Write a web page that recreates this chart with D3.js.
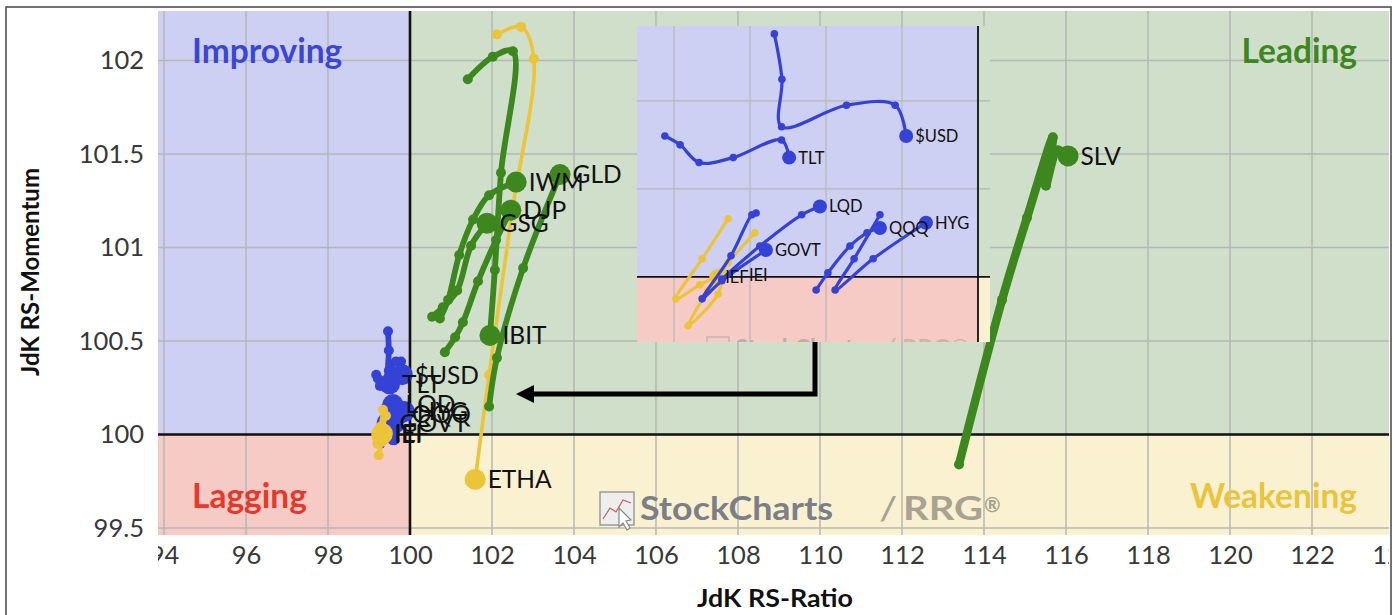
<!DOCTYPE html>
<html>
<head>
<meta charset="utf-8">
<script src="https://cdn.jsdelivr.net/npm/d3@7"></script>
<style>
body { margin: 0; background: #fff; }
svg { display: block; font-family: Lato, 'Open Sans', sans-serif; }
</style>
</head>
<body>
<div class="rrg-wrapper"></div>
<script>
// axis ticks
const xTicks = [94, 96, 98, 100, 102, 104, 106, 108, 110, 112, 114, 116, 118, 120, 122, 124];
const yTicks = [99.5, 100, 100.5, 101, 101.5, 102];
const insetXTicks = [99.2, 99.4, 99.6, 99.8];
const insetYTicks = [100.2, 100.4];

// tails, oldest -> latest, each point [RS-Ratio, RS-Momentum]
const SLV  = [[113.39, 99.84], [114.44, 100.72], [115.05, 101.16], [115.68, 101.59], [115.51, 101.33], [115.80, 101.52], [116.05, 101.49]];
const GLD  = [[101.93, 100.15], [102.12, 100.41], [102.76, 100.89], [103.66, 101.39]];
const IWM  = [[100.73, 100.62], [100.93, 100.72], [101.20, 100.96], [101.54, 101.15], [101.93, 101.28], [102.59, 101.35]];
const DJP  = [[100.85, 100.44], [101.10, 100.52], [101.29, 100.60], [101.66, 100.82], [102.10, 101.04], [102.46, 101.20]];
const GSG  = [[100.54, 100.63], [100.80, 100.68], [101.15, 100.77], [101.49, 101.01], [101.88, 101.13]];
const IBIT = [[101.41, 101.90], [102.02, 102.02], [102.51, 102.05], [102.22, 101.40], [102.07, 100.88], [101.95, 100.53]];
const ETHA = [[102.12, 102.14], [102.71, 102.18], [103.02, 102.01], [102.49, 101.19], [101.93, 100.32], [101.59, 99.76]];
const USD  = [[99.464, 100.552], [99.484, 100.449], [99.483, 100.341], [99.654, 100.390], [99.782, 100.390], [99.811, 100.320]];
const TLT  = [[99.176, 100.320], [99.216, 100.300], [99.266, 100.260], [99.356, 100.271], [99.483, 100.311], [99.503, 100.271]];
const LQD  = [[99.326, 99.995], [99.426, 100.070], [99.536, 100.141], [99.584, 100.160]];
const GOVT = [[99.416, 100.145], [99.405, 100.141], [99.350, 100.048], [99.274, 99.950], [99.326, 99.991], [99.442, 100.061]];
const QQQ  = [[99.574, 99.970], [99.605, 100.009], [99.663, 100.070], [99.708, 100.100], [99.742, 100.111]];
const HYG  = [[99.742, 100.141], [99.674, 100.041], [99.624, 99.970], [99.724, 100.041], [99.863, 100.123]];
const IEF  = [[99.342, 100.132], [99.274, 100.041], [99.205, 99.950], [99.268, 99.982], [99.311, 100.000]];
const IEI  = [[99.413, 100.100], [99.342, 100.032], [99.289, 99.968], [99.237, 99.889], [99.316, 99.961], [99.326, 100.005]];

const greenNames  = ['SLV', 'GLD', 'IWM', 'DJP', 'GSG', 'IBIT'];
const blueNames   = ['$USD', 'TLT', 'LQD', 'GOVT', 'QQQ', 'HYG'];
const yellowNames = ['ETHA', 'IEF', 'IEI'];

const tails = {SLV: SLV, GLD: GLD, IWM: IWM, DJP: DJP, GSG: GSG, IBIT: IBIT, ETHA: ETHA,
  '$USD': USD, TLT: TLT, LQD: LQD, GOVT: GOVT, QQQ: QQQ, HYG: HYG, IEF: IEF, IEI: IEI};

const green = '#3d871f', blue = '#3442d6', yellow = '#ebc43a';
const colorOf = n => greenNames.includes(n) ? green : blueNames.includes(n) ? blue : yellow;

const W = 1397, H = 615;
const svg = d3.select('.rrg-wrapper').append('svg').attr('width', W).attr('height', H);
const defs = svg.append('defs');

// main plot box
const pl = 158, pr = 1389, pt = 11, pb = 535;
const x = d3.scaleLinear().domain([93.854, 123.878]).range([pl, pr]);
const y = d3.scaleLinear().domain([99.4626, 102.265]).range([pb, pt]);

// inset box (zoom of the cluster round 100/100)
const il = 637, ir = 990, it = 26, ib = 342;
const ix = d3.scaleLinear().domain([99.1026, 100.0316]).range([il, ir]);
const iy = d3.scaleLinear().domain([99.852, 100.570]).range([ib, it]);

svg.append('rect').attr('x', 6).attr('y', 7).attr('width', 1385).attr('height', 640)
  .attr('fill', 'none').attr('stroke', '#444').attr('stroke-width', 1.5);

defs.append('clipPath').attr('id', 'plotClip').append('rect')
  .attr('x', pl).attr('y', pt).attr('width', pr - pl).attr('height', pb - pt);
defs.append('clipPath').attr('id', 'xLabClip').append('rect')
  .attr('x', pl).attr('y', pb).attr('width', pr - pl).attr('height', 50);
defs.append('clipPath').attr('id', 'insetClip').append('rect')
  .attr('x', il).attr('y', it).attr('width', ir - il).attr('height', ib - it);

function quadrants(g, xs, ys) {
  const x0 = xs.range()[0], x1 = xs.range()[1], y0 = ys.range()[1], y1 = ys.range()[0];
  const cx = xs(100), cy = ys(100);
  g.append('rect').attr('x', x0).attr('y', y0).attr('width', cx - x0).attr('height', cy - y0).attr('fill', '#cdd0f2');
  g.append('rect').attr('x', cx).attr('y', y0).attr('width', x1 - cx).attr('height', cy - y0).attr('fill', '#cfdfc9');
  g.append('rect').attr('x', x0).attr('y', cy).attr('width', cx - x0).attr('height', y1 - cy).attr('fill', '#f6cbc6');
  g.append('rect').attr('x', cx).attr('y', cy).attr('width', x1 - cx).attr('height', y1 - cy).attr('fill', '#faf1d1');
}

function grid(g, xs, ys, xt, yt, w) {
  g.selectAll(null).data(xt).join('line')
    .attr('x1', d => xs(d)).attr('x2', d => xs(d))
    .attr('y1', ys.range()[1]).attr('y2', ys.range()[0])
    .attr('stroke', '#b6b6b6').attr('stroke-width', w);
  g.selectAll(null).data(yt).join('line')
    .attr('y1', d => ys(d)).attr('y2', d => ys(d))
    .attr('x1', xs.range()[0]).attr('x2', xs.range()[1])
    .attr('stroke', '#b6b6b6').attr('stroke-width', w);
}

function centre(g, xs, ys, w) {
  g.append('line').attr('x1', xs(100)).attr('x2', xs(100)).attr('y1', ys.range()[1]).attr('y2', ys.range()[0])
    .attr('stroke', '#111').attr('stroke-width', w);
  g.append('line').attr('y1', ys(100)).attr('y2', ys(100)).attr('x1', xs.range()[0]).attr('x2', xs.range()[1])
    .attr('stroke', '#111').attr('stroke-width', w);
}

function drawTails(g, xs, ys, names, sz) {
  const line = d3.line().x(d => xs(d[0])).y(d => ys(d[1])).curve(d3.curveCatmullRom.alpha(0.5));
  names.forEach(function(n) {
    const pts = tails[n], c = colorOf(n);
    g.append('path').attr('d', line(pts)).attr('fill', 'none').attr('stroke', c)
      .attr('stroke-width', (sz.wide && sz.wide[n]) || (yellowNames.includes(n) ? sz.yline : sz.line))
      .attr('stroke-linejoin', 'round').attr('stroke-linecap', 'round');
    g.selectAll(null).data(pts.slice(0, -1)).join('circle')
      .attr('cx', d => xs(d[0])).attr('cy', d => ys(d[1])).attr('r', sz.dot).attr('fill', c);
    const h = pts[pts.length - 1];
    g.append('circle').attr('cx', xs(h[0])).attr('cy', ys(h[1])).attr('r', sz.head).attr('fill', c);
  });
}

function drawLabels(g, xs, ys, names, sz, nudge) {
  names.forEach(function(n) {
    const h = tails[n][tails[n].length - 1];
    g.append('text').attr('x', xs(h[0]) + sz.head + 2 + (nudge[n] || 0)).attr('y', ys(h[1]))
      .attr('dy', '0.36em').style('font-size', sz.font + 'px').attr('fill', '#111').text(n);
  });
}

// ---- main chart
const main = svg.append('g').attr('clip-path', 'url(#plotClip)');
quadrants(main, x, y);
grid(main, x, y, xTicks, yTicks, 1.5);
centre(main, x, y, 2.6);

function quadLabel(tx, ty, anchor, fill, txt) {
  main.append('text').attr('x', tx).attr('y', ty).attr('text-anchor', anchor).attr('fill', fill)
    .style('font-size', '33.5px').style('font-weight', 700).text(txt);
}
quadLabel(192, 63, 'start', '#3a47d4', 'Improving');
quadLabel(1357, 63, 'end', '#3e861f', 'Leading');
quadLabel(192, 508, 'start', '#e6392c', 'Lagging');
quadLabel(1357, 508, 'end', '#e9c43c', 'Weakening');

// watermark
const wm = main.append('g');
wm.append('rect').attr('x', 600).attr('y', 492).attr('width', 34).attr('height', 33)
  .attr('fill', '#eeeeee').attr('stroke', '#9a9a9a').attr('stroke-width', 1.5);
wm.append('path').attr('d', 'M603,519 L610,508 L616,512 L623,500 L631,503')
  .attr('fill', 'none').attr('stroke', '#c0605a').attr('stroke-width', 1.2);
wm.append('path').attr('d', 'M619,508 L619,527 L623,523 L627,530 L630,528 L626,521 L631,520 Z')
  .attr('fill', '#fff').attr('stroke', '#888').attr('stroke-width', 1.2);
wm.append('text').attr('x', 640).attr('y', 520).attr('textLength', 193).attr('lengthAdjust', 'spacingAndGlyphs')
  .style('font-size', '33px').style('font-weight', 700).attr('fill', '#7c7e88').text('StockCharts');
wm.append('text').attr('x', 881).attr('y', 520)
  .style('font-size', '33px').style('font-weight', 700).style('font-style', 'italic').attr('fill', '#a8a292').text('/');
wm.append('text').attr('x', 903).attr('y', 520).attr('textLength', 80).attr('lengthAdjust', 'spacingAndGlyphs')
  .style('font-size', '33px').style('font-weight', 700).attr('fill', '#a8a292').text('RRG');
wm.append('text').attr('x', 984).attr('y', 512).style('font-size', '20px').style('font-weight', 700).attr('fill', '#a8a292').text('®');

const mainSz = {line: 5.8, yline: 3.6, dot: 5, head: 10.5, font: 24.5, wide: {SLV: 8.5}};
drawTails(main, x, y, ['ETHA'], mainSz);
drawTails(main, x, y, blueNames, mainSz);
drawTails(main, x, y, greenNames, mainSz);
drawTails(main, x, y, ['IEF', 'IEI'], mainSz);
drawLabels(main, x, y, greenNames.concat(blueNames, yellowNames), mainSz, {});

// axes
const xAxis = svg.append('g').attr('clip-path', 'url(#xLabClip)')
  .append('g').attr('transform', 'translate(0,' + pb + ')')
  .call(d3.axisBottom(x).tickValues(xTicks).tickSize(0).tickPadding(11).tickFormat(d3.format('d')));
const yAxis = svg.append('g').attr('transform', 'translate(' + pl + ',0)')
  .call(d3.axisLeft(y).tickValues(yTicks).tickSize(0).tickPadding(14).tickFormat(d => d));
[xAxis, yAxis].forEach(function(a) {
  a.select('.domain').remove();
  a.selectAll('text').style('font-size', '25.5px').style('font-family', 'Lato').attr('fill', '#383838');
});

svg.append('text').attr('x', 775).attr('y', 607).attr('text-anchor', 'middle')
  .attr('textLength', 156).attr('lengthAdjust', 'spacingAndGlyphs')
  .style('font-size', '24px').style('font-weight', 700).attr('fill', '#111').text('JdK RS-Ratio');
svg.append('text').attr('transform', 'translate(39,272) rotate(-90)').attr('text-anchor', 'middle')
  .attr('textLength', 208).attr('lengthAdjust', 'spacingAndGlyphs')
  .style('font-size', '24px').style('font-weight', 700).attr('fill', '#111').text('JdK RS-Momentum');

// ---- inset
const inset = svg.append('g').attr('clip-path', 'url(#insetClip)');
quadrants(inset, ix, iy);
grid(inset, ix, iy, insetXTicks, insetYTicks, 1.2);
centre(inset, ix, iy, 1.8);
inset.append('rect').attr('x', 707).attr('y', 337).attr('width', 22).attr('height', 20)
  .attr('fill', 'none').attr('stroke', '#aaa').attr('stroke-width', 1);
inset.append('text').attr('x', 735).attr('y', 357).style('font-size', '24px').style('font-weight', 700)
  .attr('fill', '#999').attr('opacity', 0.6).text('StockCharts');
inset.append('text').attr('x', 885).attr('y', 357).style('font-size', '24px').style('font-weight', 700)
  .attr('fill', '#b0a898').attr('opacity', 0.6).text('/ RRG®');

const insetNames = ['$USD', 'TLT', 'LQD', 'GOVT', 'QQQ', 'HYG', 'IEF', 'IEI'];
const inSz = {line: 3.2, yline: 3.2, dot: 3.8, head: 7, font: 16.5};
drawTails(inset, ix, iy, ['IEF', 'IEI'], inSz);
drawTails(inset, ix, iy, blueNames, inSz);
drawLabels(inset, ix, iy, insetNames, inSz, {IEI: 18});

// arrow from inset to the cluster
svg.append('path').attr('d', 'M815,' + ib + ' V394 H530').attr('fill', 'none')
  .attr('stroke', '#000').attr('stroke-width', 5);
svg.append('path').attr('d', 'M516,394 L534,385 L534,403 Z').attr('fill', '#000');
</script>
</body>
</html>
